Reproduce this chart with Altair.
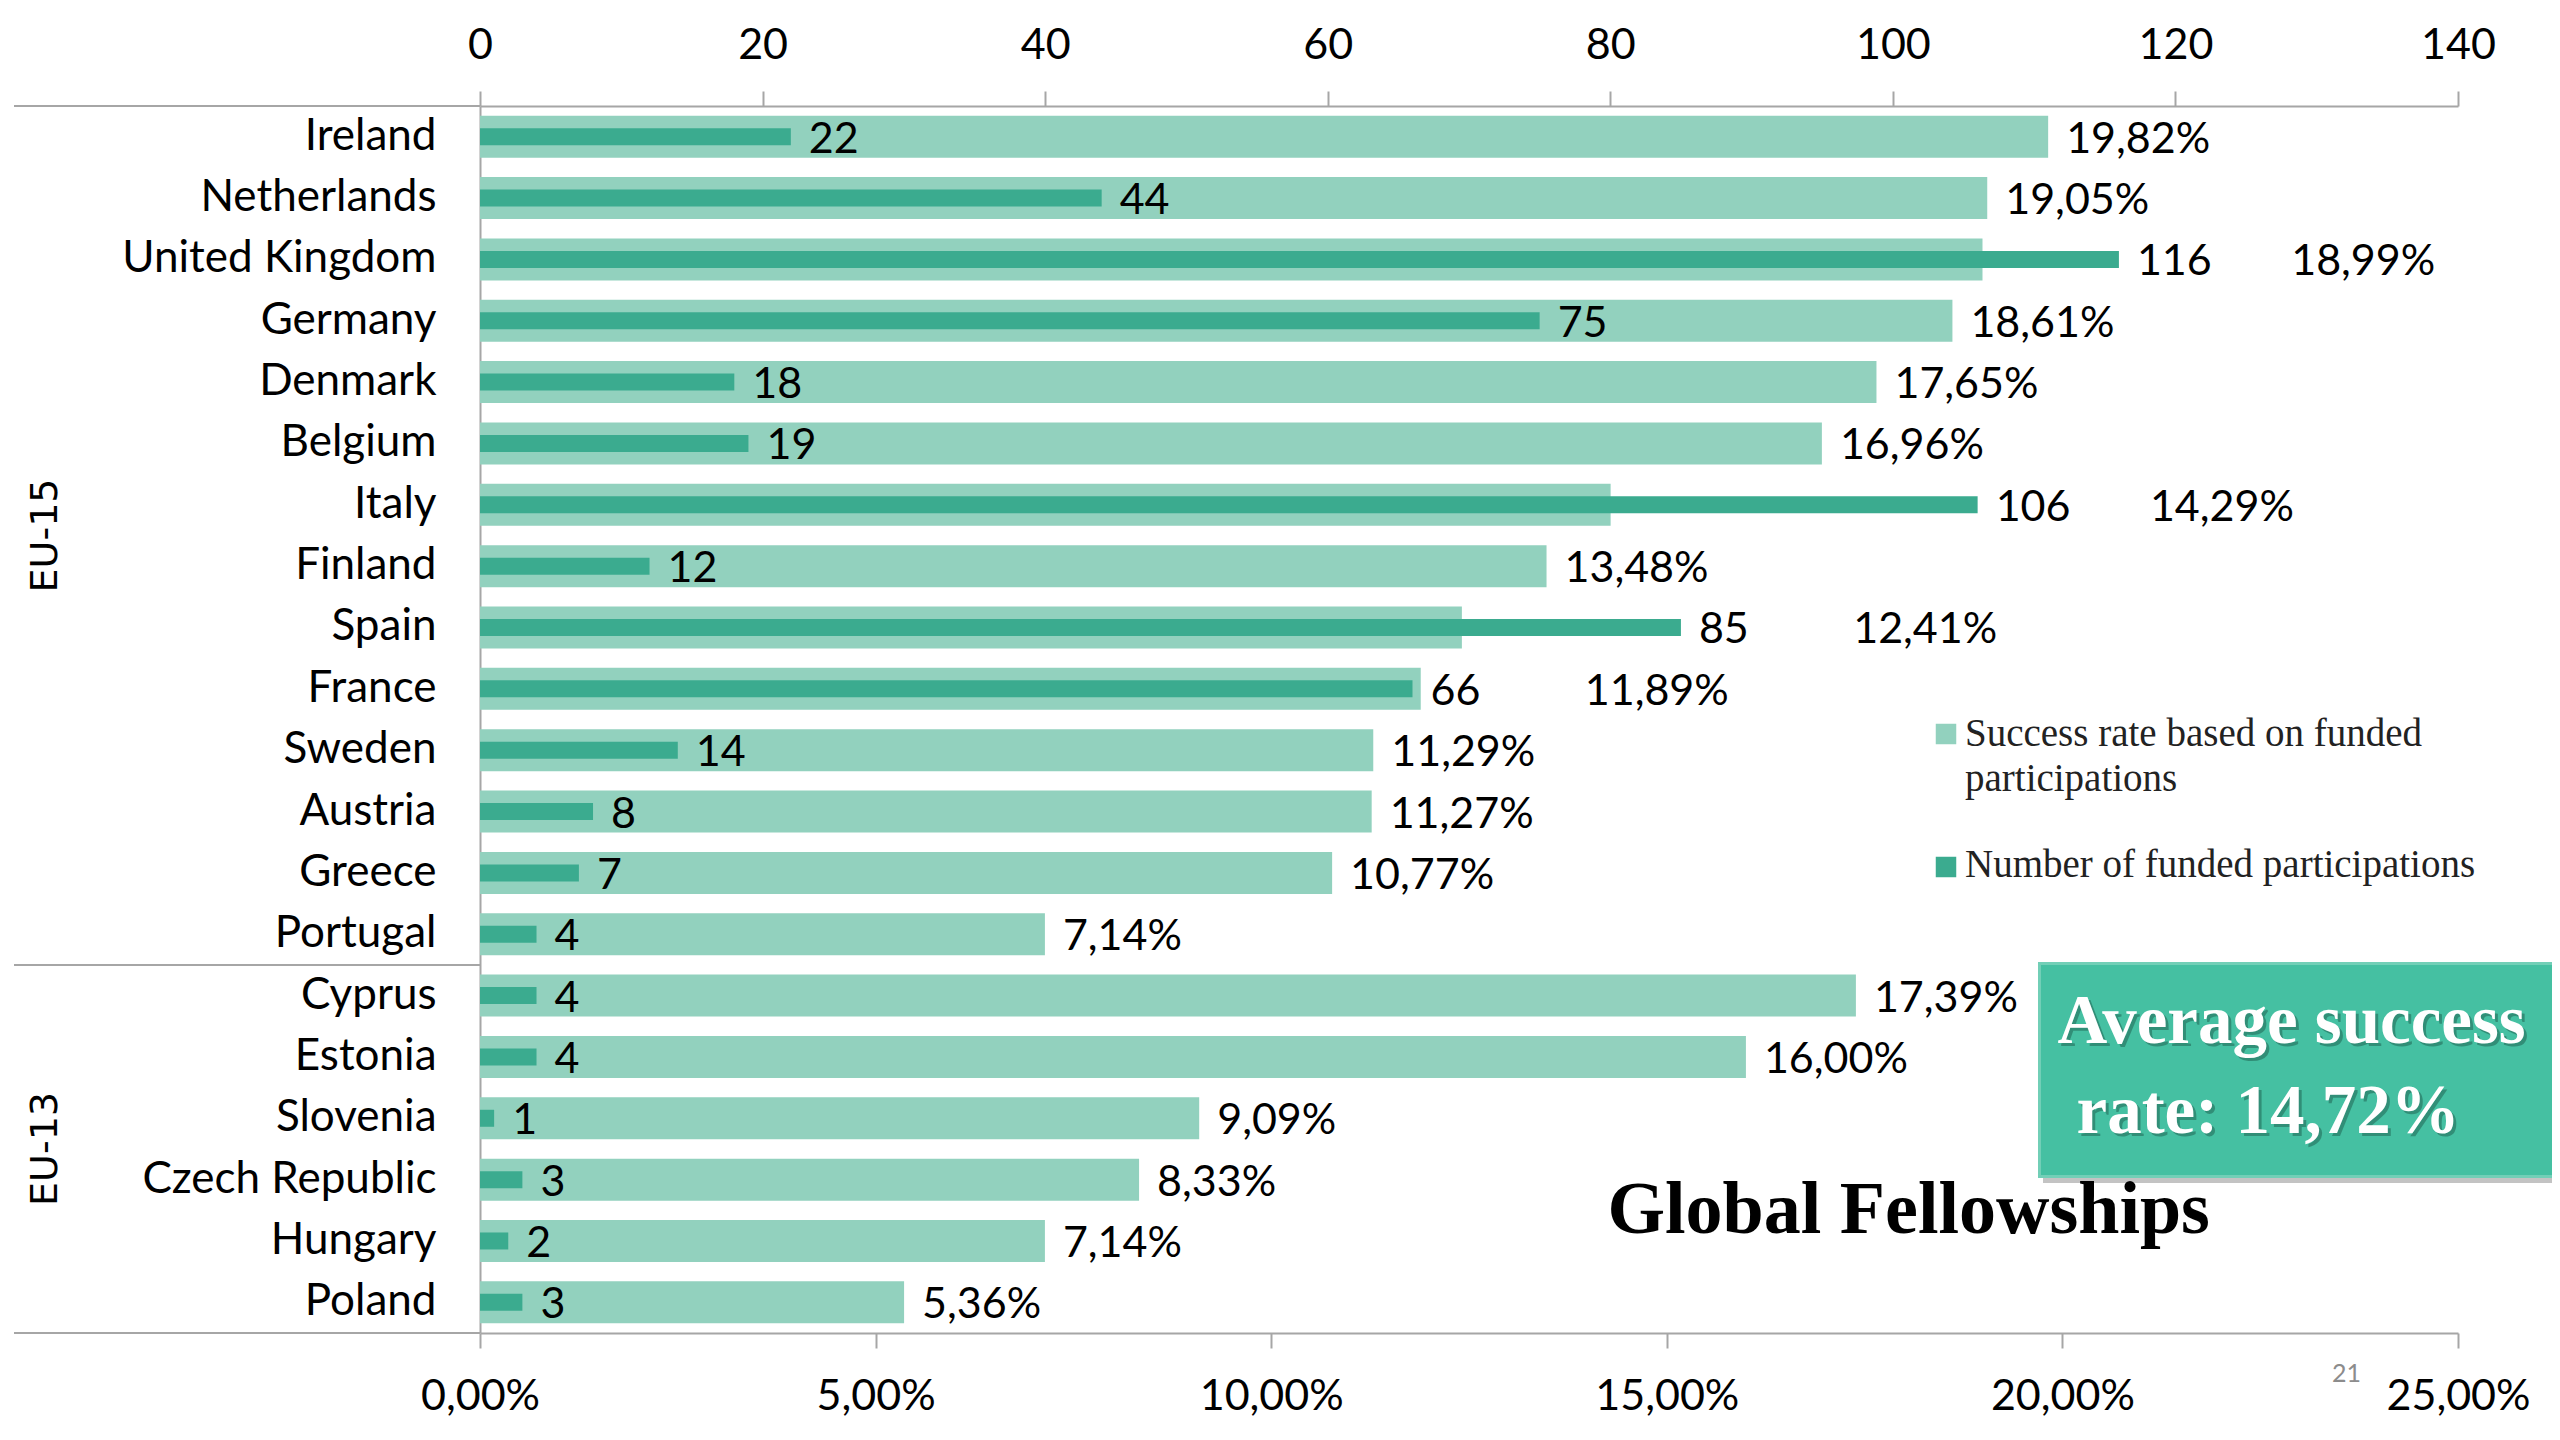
import altair as alt
import pandas as pd

countries = ["Ireland", "Netherlands", "United Kingdom", "Germany", "Denmark", "Belgium",
             "Italy", "Finland", "Spain", "France", "Sweden", "Austria", "Greece", "Portugal",
             "Cyprus", "Estonia", "Slovenia", "Czech Republic", "Hungary", "Poland"]
groups = ["EU-15"] * 14 + ["EU-13"] * 6
success_rate = [19.82, 19.05, 18.99, 18.61, 17.65, 16.96, 14.29, 13.48, 12.41, 11.89,
                11.29, 11.27, 10.77, 7.14, 17.39, 16.00, 9.09, 8.33, 7.14, 5.36]
funded = [22, 44, 116, 75, 18, 19, 106, 12, 85, 66, 14, 8, 7, 4, 4, 4, 1, 3, 2, 3]
pct_ticks = [0, 0.05, 0.10, 0.15, 0.20, 0.25]
count_ticks = [0, 20, 40, 60, 80, 100, 120, 140]
legend_labels = ["Success rate based on funded", "participations", "Number of funded participations"]
title_text = "Global Fellowships"
average_text = ["Average success", "rate: 14,72%"]
page_number = "21"

LIGHT = "#92D1BE"
DARK = "#3BAB8F"
GRAY = "#A6A6A6"
W, H = 1978, 1227
STEP = H / len(countries)

df = pd.DataFrame({
    "country": countries,
    "group": groups,
    "rate": [r / 100 for r in success_rate],
    "count": funded,
})

y_enc = alt.Y(
    "country:N", sort=countries,
    scale=alt.Scale(paddingInner=0, paddingOuter=0),
    axis=alt.Axis(title=None, labelFont="Lato", labelFontSize=44, labelColor="black",
                  labelPadding=44, ticks=False, domainColor=GRAY, domainWidth=2,
                  labelAlign="right", labelLimit=0),
)

pct_scale = alt.Scale(domain=[0, 0.25], nice=False, zero=True)
cnt_scale = alt.Scale(domain=[0, 140], nice=False, zero=True)

base = alt.Chart(df)

light = base.mark_bar(color=LIGHT, size=42).encode(
    y=y_enc,
    x=alt.X("rate:Q", scale=pct_scale,
            axis=alt.Axis(orient="bottom", values=pct_ticks, title=None, grid=False,
                          labelExpr="replace(format(datum.value, '.2%'), '.', ',')",
                          labelFont="Lato", labelFontSize=43, labelColor="black",
                          tickSize=15, tickColor=GRAY, tickWidth=2,
                          domainColor=GRAY, domainWidth=2, labelPadding=27,
                          labelFlush=False)),
)

dark = base.mark_bar(color=DARK, size=17).encode(
    y=y_enc,
    x=alt.X("count:Q", scale=cnt_scale,
            axis=alt.Axis(orient="top", values=count_ticks, title=None, grid=False,
                          format="d", labelFont="Lato", labelFontSize=43, labelColor="black",
                          tickSize=15, tickColor=GRAY, tickWidth=2,
                          domainColor=GRAY, domainWidth=2, labelPadding=24,
                          labelFlush=False)),
)

count_text = base.mark_text(align="left", baseline="middle", dx=18, dy=3,
                            font="Lato", fontSize=43, color="black").encode(
    y=y_enc,
    x=alt.X("count:Q", scale=cnt_scale, axis=None),
    text=alt.Text("count:Q", format="d"),
)

pct_text = base.transform_calculate(
    cpos="datum.count / 140 * 0.25",
).transform_calculate(
    pctpos="datum.rate > datum.cpos + 0.016 ? datum.rate : datum.cpos + 0.0195",
    label="replace(format(datum.rate, '.2%'), '.', ',')",
).mark_text(align="left", baseline="middle", dx=18, dy=3,
            font="Lato", fontSize=43, color="black").encode(
    y=y_enc,
    x=alt.X("pctpos:Q", scale=pct_scale, axis=None),
    text="label:N",
)

one = alt.Chart(pd.DataFrame({"k": [0]}))

# left extension lines of the axes and group divider
n15 = groups.count("EU-15")
n13 = groups.count("EU-13")
div_rows = [0, n15, n15 + n13]
rules = [
    one.mark_rule(color=GRAY, strokeWidth=2).encode(
        x=alt.value(-466), x2=alt.value(0), y=alt.value(r * STEP))
    for r in div_rows
]

grp_labels = [
    one.mark_text(angle=270, font="DejaVu Sans", fontSize=38, color="black",
                  baseline="middle", align="center").encode(
        x=alt.value(-434), y=alt.value((start + n / 2) * STEP), text=alt.value(g))
    for g, start, n in [("EU-15", 0, n15), ("EU-13", n15, n13)]
]

# legend
leg = [
    one.mark_square(color=LIGHT, size=420, opacity=1).encode(x=alt.value(1466), y=alt.value(628)),
    one.mark_square(color=DARK, size=420, opacity=1).encode(x=alt.value(1466), y=alt.value(761)),
    one.mark_text(align="left", baseline="alphabetic", font="Liberation Serif", fontSize=39,
                  color="#222222").encode(x=alt.value(1485), y=alt.value(640), text=alt.value(legend_labels[0])),
    one.mark_text(align="left", baseline="alphabetic", font="Liberation Serif", fontSize=39,
                  color="#222222").encode(x=alt.value(1485), y=alt.value(685), text=alt.value(legend_labels[1])),
    one.mark_text(align="left", baseline="alphabetic", font="Liberation Serif", fontSize=39,
                  color="#222222").encode(x=alt.value(1485), y=alt.value(771), text=alt.value(legend_labels[2])),
]

# average box
box = [
    one.mark_rect(color="#7A7A7A", opacity=0.45).encode(
        x=alt.value(1563), x2=alt.value(2085), y=alt.value(862), y2=alt.value(1077)),
    one.mark_rect(color="#45C0A2", stroke="#72CFB7", strokeWidth=3).encode(
        x=alt.value(1559.5), x2=alt.value(2085), y=alt.value(857.5), y2=alt.value(1070.5)),
]
avg_txt = []
for i, (tx, ty) in enumerate([(1577.5, 936.5), (1596.5, 1026.5)]):
    avg_txt.append(one.mark_text(align="left", baseline="alphabetic", font="Liberation Serif",
                                 fontWeight="bold", fontSize=69, color="#1E5E4E", opacity=0.5).encode(
        x=alt.value(tx + 3), y=alt.value(ty + 3), text=alt.value(average_text[i])))
    avg_txt.append(one.mark_text(align="left", baseline="alphabetic", font="Liberation Serif",
                                 fontWeight="bold", fontSize=69, color="white").encode(
        x=alt.value(tx), y=alt.value(ty), text=alt.value(average_text[i])))

title = one.mark_text(align="left", baseline="alphabetic", font="Liberation Serif",
                      fontWeight="bold", fontSize=74, color="black").encode(
    x=alt.value(1127.5), y=alt.value(1126.5), text=alt.value(title_text))

page = one.mark_text(align="left", baseline="alphabetic", font="Lato", fontSize=25,
                     color="#8C8C8C").encode(
    x=alt.value(1852), y=alt.value(1276), text=alt.value(page_number))

chart = alt.layer(
    light, dark, count_text, pct_text, *rules, *grp_labels, *leg, *box, *avg_txt, title, page
).resolve_scale(x="independent").properties(
    width=W, height=H,
    autosize=alt.AutoSizeParams(type="none"),
    padding={"left": 472, "top": 98, "right": 94, "bottom": 99},
    background="white",
).configure_view(stroke=None)

chart.save("out.html", embed_options={"renderer": "svg", "actions": False})
